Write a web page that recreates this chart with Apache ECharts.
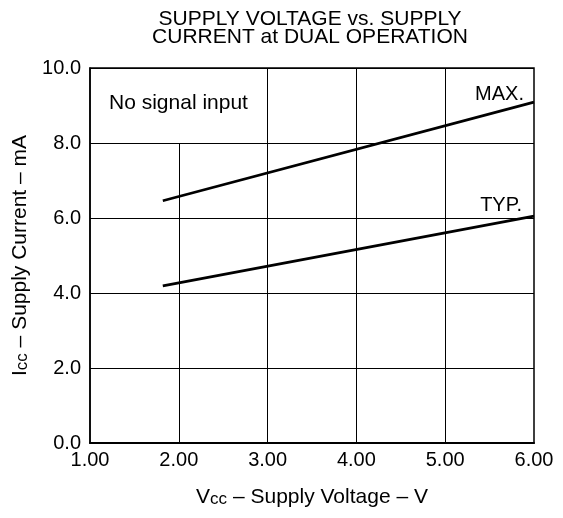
<!DOCTYPE html>
<html><head><meta charset="utf-8">
<script src="https://cdn.jsdelivr.net/npm/echarts@6/dist/echarts.min.js"></script>
<style>html,body{margin:0;padding:0;background:#fff}#c{width:563px;height:518px}</style>
</head><body><div id="c"></div>
<script>
const xTicks = [1, 2, 3, 4, 5, 6];
const yTicks = [0, 2, 4, 6, 8, 10];
const maxVcc = [1.82, 6.0];
const maxIcc = [6.46, 9.09];
const typVcc = [1.82, 6.0];
const typIcc = [4.19, 6.05];
// vertical grid lines: x and the value where each one stops
const vGridX = [2, 3, 4, 5];
const vGridTop = [8, 10, 10, 10];
const FONT = '"Liberation Sans", Arial, sans-serif';

const richName = {
  s: {fontFamily: FONT, fontSize: 21, color: '#000', verticalAlign: 'bottom', lineHeight: 22},
  sub: {fontFamily: FONT, fontSize: 17, color: '#000', verticalAlign: 'bottom', lineHeight: 20}
};

const chart = echarts.init(document.getElementById('c'), null, {renderer: 'canvas'});
chart.setOption({
  animation: false,
  title: {
    text: 'SUPPLY VOLTAGE vs. SUPPLY\nCURRENT at DUAL OPERATION',
    left: 305, top: 5, textAlign: 'center',
    textStyle: {fontFamily: FONT, fontSize: 21, fontWeight: 'normal', color: '#000', lineHeight: 18}
  },
  grid: {left: 90, right: 29, top: 68, bottom: 75, show: true, borderColor: '#000', borderWidth: 1.5, backgroundColor: 'transparent'},
  xAxis: {
    type: 'value', min: 1, max: 6, interval: 1,
    name: '{s|V}{sub|cc}{s| – Supply Voltage – V}', nameLocation: 'middle', nameGap: 43,
    nameTextStyle: {rich: richName},
    axisLine: {lineStyle: {color: '#000', width: 2}},
    axisTick: {show: false},
    splitLine: {show: false},
    axisLabel: {fontFamily: FONT, fontSize: 20, color: '#000', margin: 7, formatter: v => v.toFixed(2)}
  },
  yAxis: {
    type: 'value', min: 0, max: 10, interval: 2,
    name: '{s|I}{sub|cc}{s| – Supply Current – mA}', nameLocation: 'middle', nameGap: 58, nameRotate: 90,
    nameTextStyle: {rich: richName},
    axisLine: {show: true, lineStyle: {color: '#000', width: 1.5}},
    axisTick: {show: false},
    splitLine: {show: true, lineStyle: {color: '#000', width: 1}},
    axisLabel: {fontFamily: FONT, fontSize: 20, color: '#000', margin: 9, formatter: v => v.toFixed(1)}
  },
  series: [
    {
      type: 'line', silent: true, symbol: 'none', data: [],
      markLine: {
        symbol: 'none', silent: true, label: {show: false},
        lineStyle: {color: '#000', width: 1, type: 'solid'},
        data: vGridX.map((x, i) => [{coord: [x, 0]}, {coord: [x, vGridTop[i]]}])
      }
    },
    {
      name: 'MAX.', type: 'line', symbol: 'none', lineStyle: {color: '#000', width: 2.7},
      data: maxVcc.map((x, i) => [x, maxIcc[i]]),
      markPoint: {
        symbol: 'circle', symbolSize: 0, silent: true,
        label: {show: true, formatter: 'MAX.', position: [-10, 2], align: 'right', verticalAlign: 'bottom', fontFamily: FONT, fontSize: 20, color: '#000'},
        data: [{coord: [maxVcc[maxVcc.length - 1], maxIcc[maxIcc.length - 1]]}]
      }
    },
    {
      name: 'TYP.', type: 'line', symbol: 'none', lineStyle: {color: '#000', width: 2.7},
      data: typVcc.map((x, i) => [x, typIcc[i]]),
      markPoint: {
        symbol: 'circle', symbolSize: 0, silent: true,
        label: {show: true, formatter: 'TYP.', position: [-12, -1], align: 'right', verticalAlign: 'bottom', fontFamily: FONT, fontSize: 20, color: '#000'},
        data: [{coord: [typVcc[typVcc.length - 1], typIcc[typIcc.length - 1]]}]
      }
    }
  ],
  graphic: [{
    type: 'text', left: 109, top: 93,
    style: {text: 'No signal input', font: '21px ' + FONT, fill: '#000'}
  }]
});
</script></body></html>
